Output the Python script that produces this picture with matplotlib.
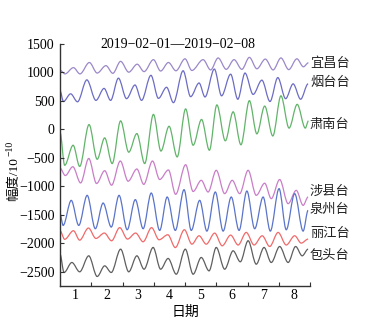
import numpy as np
import matplotlib
matplotlib.use("Agg")
import matplotlib.pyplot as plt
from matplotlib.path import Path
from matplotlib.patches import PathPatch

# ---- data (extrema; time in days, amplitude in 1e-10) ----
title = "2019\u221202\u221201\u20142019\u221202\u221208"
stations = ["宜昌台", "烟台台", "肃南台", "涉县台", "泉州台", "丽江台", "包头台"]

yc_t = [0, 0.16, 0.43, 0.64, 0.94, 1.19, 1.47, 1.69, 1.94, 2.20, 2.47, 2.69, 2.99, 3.22, 3.47, 3.71,
        4.00, 4.22, 4.58, 4.82, 5.06, 5.32, 5.57, 5.82, 6.06, 6.30, 6.57, 6.82, 7.07, 7.32, 7.58, 7.79, 7.95]
yc_v = [1040, 975, 1085, 975, 1175, 990, 1120, 985, 1195, 1005, 1145, 1015, 1225, 1025, 1175, 1030,
        1240, 1035, 1225, 1045, 1255, 1055, 1225, 1055, 1265, 1065, 1235, 1045, 1255, 1050, 1240, 1100, 1170]

yt_t = [0, 0.11, 0.34, 0.56, 0.86, 1.15, 1.41, 1.62, 1.87, 2.13, 2.40, 2.61, 2.91, 3.15, 3.41, 3.63,
        3.94, 4.18, 4.45, 4.64, 4.94, 5.17, 5.46, 5.69, 5.92, 6.18, 6.46, 6.72, 6.97, 7.22, 7.46, 7.70, 7.94]
yt_v = [680, 490, 625, 485, 870, 510, 720, 510, 900, 540, 780, 510, 950, 545, 740, 470,
        1030, 575, 815, 570, 1060, 590, 970, 530, 990, 615, 865, 490, 910, 540, 800, 530, 800]

sn_t = [0, 0.15, 0.42, 0.63, 0.93, 1.19, 1.43, 1.67, 1.94, 2.20, 2.46, 2.71, 2.99, 3.23, 3.49, 3.75,
        4.02, 4.26, 4.53, 4.78, 5.02, 5.29, 5.54, 5.79, 6.06, 6.30, 6.55, 6.81, 7.07, 7.33, 7.59, 7.85, 7.95]
sn_v = [-50, -630, -278, -650, 85, -524, -149, -600, 150, -400, -73, -600, 264, -380, 55, -483,
        360, -278, 175, -366, 430, -200, 309, -270, 505, -78, 410, -115, 590, 23, 440, 23, 150]

sx_t = [0, 0.17, 0.41, 0.66, 0.92, 1.17, 1.43, 1.65, 1.93, 2.18, 2.46, 2.68, 2.96, 3.19, 3.47, 3.70,
        4.02, 4.26, 4.52, 4.74, 5.00, 5.27, 5.51, 5.75, 6.02, 6.28, 6.55, 6.76, 7.03, 7.30, 7.56, 7.78, 7.94]
sx_v = [-680, -810, -655, -940, -510, -950, -725, -980, -555, -910, -695, -965, -555, -880, -712, -1140,
        -620, -1090, -894, -1099, -718, -1128, -894, -1128, -718, -1158, -945, -1216, -880, -1304, -1070, -1334, -1187]

qz_t = [0, 0.10, 0.36, 0.60, 0.87, 1.13, 1.38, 1.64, 1.89, 2.15, 2.41, 2.66, 2.92, 3.19, 3.43, 3.69,
        3.97, 4.20, 4.47, 4.70, 4.97, 5.22, 5.48, 5.73, 5.98, 6.23, 6.50, 6.73, 7.01, 7.24, 7.51, 7.78, 7.94]
qz_v = [-1480, -1686, -1246, -1686, -1158, -1744, -1293, -1715, -1158, -1762, -1233, -1744, -1117, -1774, -1187, -1774,
        -1058, -1774, -1246, -1786, -1099, -1786, -1187, -1774, -1082, -1744, -1187, -1786, -1040, -1762, -1128, -1786, -1422]

lj_t = [0, 0.15, 0.43, 0.63, 0.91, 1.15, 1.42, 1.65, 1.91, 2.16, 2.42, 2.66, 2.93, 3.17, 3.45, 3.69,
        3.98, 4.22, 4.45, 4.68, 4.95, 5.19, 5.46, 5.70, 5.96, 6.21, 6.47, 6.71, 6.98, 7.24, 7.51, 7.72, 7.94]
lj_v = [-1779, -1930, -1779, -1945, -1732, -1915, -1820, -1956, -1725, -1926, -1820, -1973, -1725, -1938, -1850, -2075,
        -1762, -2015, -1868, -2015, -1821, -2044, -1856, -2030, -1809, -2030, -1868, -2056, -1809, -2030, -1868, -1997, -1926]

bt_t = [0, 0.13, 0.38, 0.63, 0.92, 1.19, 1.43, 1.64, 1.94, 2.20, 2.46, 2.69, 2.98, 3.22, 3.46, 3.72,
        4.01, 4.26, 4.52, 4.77, 5.00, 5.27, 5.54, 5.77, 6.02, 6.28, 6.53, 6.76, 7.03, 7.30, 7.54, 7.75, 7.94]
bt_v = [-2191, -2513, -2337, -2501, -2220, -2583, -2396, -2513, -2103, -2501, -2220, -2455, -2073, -2455, -2266, -2543,
        -2103, -2543, -2249, -2484, -2073, -2455, -2132, -2325, -1955, -2367, -2073, -2337, -2056, -2337, -2056, -2220, -2103]

series_t = [yc_t, yt_t, sn_t, sx_t, qz_t, lj_t, bt_t]
series_v = [yc_v, yt_v, sn_v, sx_v, qz_v, lj_v, bt_v]
colors = ["#9b88c9", "#6c6cc4", "#62b46a", "#c97ec8", "#5b74c9", "#f06a6a", "#5f5f5f"]
label_y = [1165, 820, 80, -1080, -1405, -1830, -2220]

x_ticks = [1, 2, 3, 4, 5, 6, 7, 8]
x_labels = ["1", "2", "3", "4", "5", "6", "7", "8"]
y_ticks = [1500, 1000, 500, 0, -500, -1000, -1500, -2000, -2500]

serif = ["Liberation Serif", "Noto Sans CJK SC", "DejaVu Sans"]
cjk = ["Noto Sans CJK SC", "DejaVu Sans"]


def smooth_path(t, v):
    """Cubic Bezier through the read points with horizontal tangents at each point."""
    verts = [(t[0], v[0])]
    codes = [Path.MOVETO]
    for i in range(1, len(t)):
        dt = t[i] - t[i - 1]
        verts += [(t[i - 1] + dt / 3, v[i - 1]), (t[i] - dt / 3, v[i]), (t[i], v[i])]
        codes += [Path.CURVE4] * 3
    return Path(verts, codes)


fig = plt.figure(figsize=(3.91, 3.21), dpi=100)
ax = fig.add_axes([60 / 391, 1 - 286 / 321, 250 / 391, 242 / 321])

for t, v, c in zip(series_t, series_v, colors):
    ax.add_patch(PathPatch(smooth_path(t, v), fill=False, edgecolor=c, lw=0.9,
                           transform=ax.transData))

ax.set_xlim(0, 8)
ax.set_ylim(-2750, 1500)

for s in ["top", "right"]:
    ax.spines[s].set_visible(False)
for s in ["left", "bottom"]:
    ax.spines[s].set_color("#333333")
    ax.spines[s].set_linewidth(1.0)

ax.set_xticks(x_ticks)
ax.set_xticklabels([])
ax.set_xticks([x - 0.5 for x in x_ticks], minor=True)
ax.set_xticklabels(x_labels, minor=True, family=serif, fontsize=10)
ax.tick_params(axis="x", which="major", direction="in", length=3, width=0.8, color="#333333")
ax.tick_params(axis="x", which="minor", length=0, pad=2)

ax.set_yticks(y_ticks)
ax.set_yticklabels([f"{y}".replace("-", "\u2212") for y in y_ticks], family=serif, fontsize=10)
ax.tick_params(axis="y", direction="in", length=3, width=0.8, color="#333333", pad=4)

fig.text(177.5 / 391, 1 - 45 / 321, title, ha="center", va="center",
         family=serif, fontsize=9.9)

for name, y in zip(stations, label_y):
    ax.text(8.0, y, name, ha="left", va="center", family=cjk, fontsize=9.5,
            clip_on=False, color="#222222")

ax.set_xlabel("日期", family=cjk, fontsize=10, labelpad=2)

# y label: "幅度/10" with a raised "−10"
ylab = fig.text(14 / 391, 1 - 201 / 321, "幅度/10", rotation=90, rotation_mode="anchor",
                ha="left", va="center", family=serif, fontsize=9.6)
fig.canvas.draw()
bb = ylab.get_window_extent(fig.canvas.get_renderer())
fig.text((14 - 4) / 391, (bb.y1 + 1) / 321, "\u221210", rotation=90, rotation_mode="anchor",
         ha="left", va="center", family=serif, fontsize=7)

fig.savefig("out.png", dpi=100)
